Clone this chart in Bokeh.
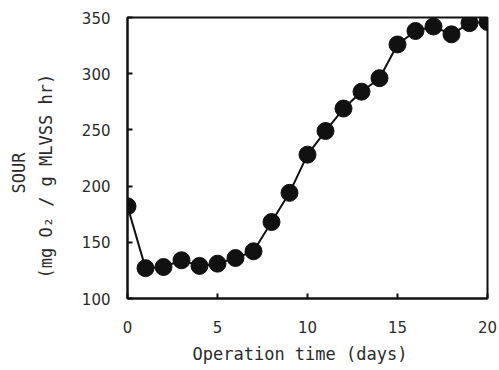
from bokeh.plotting import figure
from bokeh.models import Range1d, FixedTicker, Title
from bokeh.embed import file_html
from bokeh.resources import INLINE

# Specific oxygen uptake rate over the operation period
days = [0, 1, 2, 3, 4, 5, 6, 7, 8, 9, 10, 11, 12, 13, 14, 15, 16, 17, 18, 19, 20]
sour = [182, 127, 128, 134, 129, 131, 136, 142, 168, 194, 228, 249, 269, 284, 296,
        326, 338, 342, 335, 345, 346]

x_ticks = [0, 5, 10, 15, 20]
y_ticks = [100, 150, 200, 250, 300, 350]

x_title = "Operation time (days)"
y_title = "SOUR"
y_units = "(mg O\u2082 / g MLVSS hr)"

TICK_FONT = "DejaVu Sans"
TITLE_FONT = "DejaVu Sans Mono"
TXT = "#2a2a2a"
INK = "#111111"

p = figure(width=499, height=370, output_backend="svg", toolbar_location=None,
           x_range=Range1d(0, 20), y_range=Range1d(100, 350),
           min_border_left=127, min_border_right=12, min_border_top=17,
           min_border_bottom=72)

p.grid.visible = False
p.background_fill_color = "white"
p.border_fill_color = "white"
p.outline_line_color = INK
p.outline_line_width = 2

for ax in (p.xaxis[0], p.yaxis[0]):
    ax.axis_line_color = INK
    ax.axis_line_width = 2
    ax.major_tick_in = 5
    ax.major_tick_out = 0
    ax.major_tick_line_width = 2
    ax.major_tick_line_color = INK
    ax.minor_tick_line_color = None
    ax.major_label_text_font = TICK_FONT
    ax.major_label_text_font_size = "15px"
    ax.major_label_text_color = TXT

p.xaxis.ticker = FixedTicker(ticks=x_ticks)
p.yaxis.ticker = FixedTicker(ticks=y_ticks)
p.xaxis.major_label_standoff = 22
p.yaxis.major_label_standoff = 17

title_style = dict(text_font=TITLE_FONT, text_font_size="17px",
                   text_font_style="normal", text_color=TXT, align="left")

# y titles: units line next to the tick labels, quantity name outside it
p.add_layout(Title(text=y_units, offset=20, standoff=46, **title_style), "left")
p.add_layout(Title(text=y_title, offset=105, standoff=-36, **title_style), "left")
# x title under the tick labels
p.add_layout(Title(text=x_title, offset=65, standoff=13, **title_style), "below")

p.line(days, sour, line_color=INK, line_width=2)
p.scatter(days, sour, size=17, fill_color=INK, line_color=INK)

open("out.html", "w").write(file_html(p, INLINE))
